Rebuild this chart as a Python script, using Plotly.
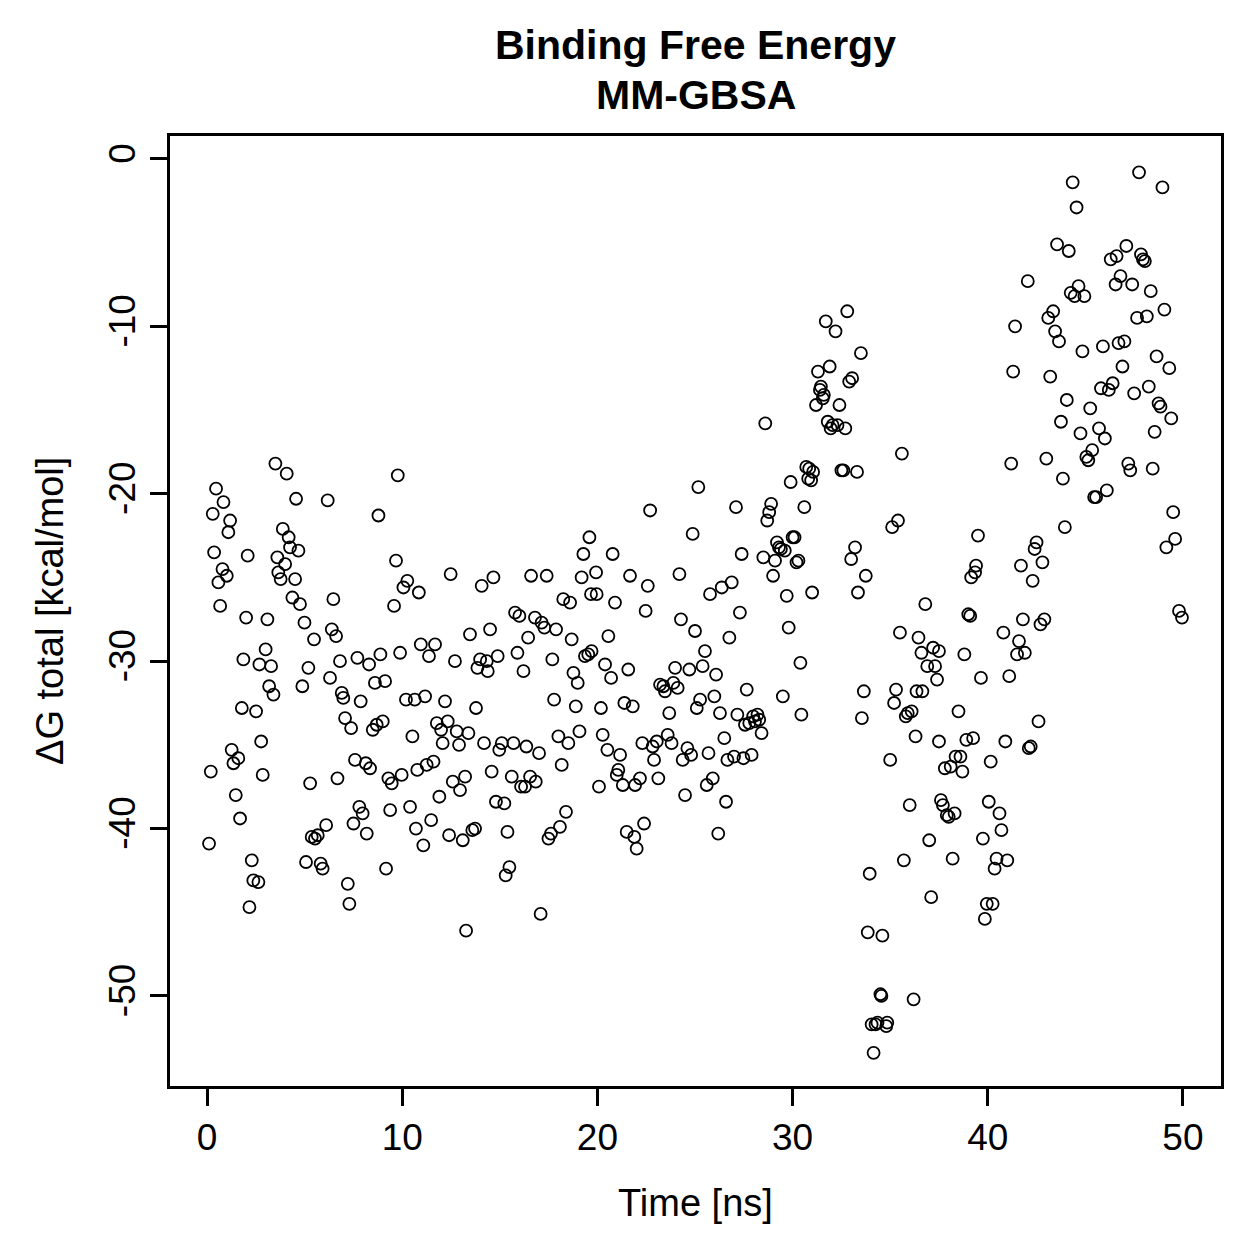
import plotly.graph_objects as go

# ---- data ----
time_a = [0.10,0.19,0.29,0.36,0.46,0.58,0.67,0.79,0.84,1.01,1.09,1.18,1.26,1.35,1.47,1.60,1.69,1.78,1.86,2.00,
          2.08,2.17,2.29,2.37,2.51,2.63,2.68,2.77,2.85,3.00,3.09,3.18,3.28,3.40,3.50,3.60,3.65,3.77,3.88,4.00,
          4.08,4.18,4.25,4.37,4.51,4.56,4.68,4.76,4.88,4.99]
dg_a = [-40.9,-36.6,-21.2,-23.5,-19.7,-25.3,-26.7,-24.5,-20.5,-24.9,-22.3,-21.6,-35.3,-36.1,-38.0,-35.8,-39.4,-32.8,-29.9,-27.4,
        -23.7,-44.7,-41.9,-43.1,-33.0,-43.2,-30.2,-34.8,-36.8,-29.3,-27.5,-31.5,-30.3,-32.0,-18.2,-23.8,-24.7,-25.1,-22.1,-24.2,
        -18.8,-22.6,-23.2,-26.2,-25.1,-20.3,-23.4,-26.6,-31.5,-27.7]

time_b = [5.07,5.19,5.28,5.36,5.48,5.53,5.67,5.82,5.92,6.10,6.18,6.30,6.39,6.47,6.61,6.68,6.81,6.90,6.98,7.07,
          7.21,7.29,7.38,7.50,7.58,7.70,7.80,7.87,7.97,8.13,8.18,8.30,8.35,8.49,8.60,8.69,8.78,8.88,9.00,9.12,
          9.17,9.29,9.38,9.46,9.58,9.68,9.77,9.89,9.97]
dg_b = [-42.0,-30.4,-37.3,-40.5,-28.7,-40.6,-40.4,-42.1,-42.4,-39.8,-20.4,-31.0,-28.1,-26.3,-28.5,-37.0,-30.0,-31.9,-32.2,-33.4,
        -43.3,-44.5,-34.0,-39.7,-35.9,-29.8,-38.7,-32.4,-39.1,-36.1,-40.3,-30.2,-36.4,-34.1,-31.3,-33.8,-21.3,-29.6,-33.6,-31.2,
        -42.4,-37.0,-38.9,-37.3,-26.7,-24.0,-18.9,-29.5,-36.8]

time_c = [10.06,10.19,10.26,10.40,10.52,10.64,10.70,10.77,10.85,10.95,11.08,11.17,11.25,11.37,11.48,11.60,11.68,11.77,11.90,11.99,
          12.07,12.19,12.33,12.40,12.48,12.59,12.70,12.79,12.91,12.96,13.10,13.22,13.27,13.39,13.47,13.59,13.73,13.78,13.85,13.99,
          14.07,14.19,14.33,14.38,14.50,14.58,14.67,14.80,14.89,14.97]
dg_c = [-25.6,-32.3,-25.2,-38.7,-34.5,-32.3,-40.0,-36.5,-25.9,-29.0,-41.0,-32.1,-36.2,-29.7,-39.5,-36.0,-29.0,-33.7,-38.1,-34.1,
        -34.9,-32.4,-33.6,-40.4,-24.8,-37.2,-30.0,-34.2,-35.0,-37.7,-40.7,-36.9,-46.1,-34.3,-28.4,-40.1,-40.0,-32.8,-30.4,-29.9,
        -25.5,-34.9,-30.0,-30.6,-28.1,-36.6,-25.0,-38.4,-29.7,-35.3]

time_d = [15.10,15.23,15.30,15.39,15.49,15.61,15.70,15.78,15.90,16.00,16.09,16.21,16.29,16.36,16.45,16.55,16.60,16.80,16.84,17.01,
          17.09,17.14,17.28,17.40,17.49,17.62,17.69,17.78,17.88,18.00,18.08,18.17,18.25,18.39,18.51,18.60,18.68,18.77,18.89,18.99,
          19.08,19.19,19.28,19.36,19.53,19.59,19.67,19.70,19.93,19.96]
dg_d = [-34.9,-38.5,-42.8,-40.2,-42.3,-36.9,-34.9,-27.1,-29.5,-27.3,-37.5,-30.6,-37.5,-35.1,-28.6,-36.9,-24.9,-27.4,-37.2,-35.5,
        -45.1,-27.7,-28.0,-24.9,-40.6,-40.3,-29.9,-32.3,-28.1,-34.5,-39.9,-36.2,-26.3,-39.0,-34.9,-26.5,-28.7,-30.7,-32.7,-31.3,
        -34.2,-25.0,-23.6,-29.7,-29.6,-22.6,-26.0,-29.4,-24.7,-26.0]

time_e = [20.08,20.18,20.27,20.39,20.51,20.56,20.70,20.78,20.90,20.99,21.07,21.16,21.30,21.38,21.50,21.58,21.67,21.81,21.89,21.93,
          22.01,22.18,22.30,22.39,22.47,22.58,22.70,22.83,22.90,23.04,23.12,23.21,23.38,23.46,23.60,23.68,23.80,23.89,23.98,24.11,
          24.20,24.28,24.37,24.49,24.61,24.71,24.80,24.88,25.00,25.09,25.17,25.26]
dg_e = [-37.5,-32.8,-34.4,-30.2,-35.3,-28.5,-31.0,-23.6,-26.5,-36.8,-36.5,-35.6,-37.4,-32.5,-40.2,-30.5,-24.9,-32.7,-40.5,-37.4,
        -41.2,-37.0,-34.9,-39.7,-27.0,-25.5,-21.0,-35.1,-35.9,-34.8,-37.0,-31.4,-31.5,-31.8,-34.4,-33.1,-34.9,-31.3,-30.4,-31.6,
        -24.8,-27.5,-35.9,-38.0,-35.2,-30.5,-35.6,-22.4,-28.2,-32.8,-19.6,-32.3]

time_f = [25.39,25.51,25.60,25.69,25.77,25.91,25.99,26.08,26.19,26.28,26.37,26.50,26.59,26.66,26.76,26.88,27.00,27.10,27.17,27.30,
          27.39,27.48,27.56,27.65,27.78,27.90,27.98,28.07,28.20,28.29,28.41,28.50,28.60,28.70,28.80,28.90,29.00,29.10,29.20,29.30,
          29.40,29.50,29.60,29.70,29.80,29.90]
dg_f = [-30.3,-29.4,-37.4,-35.5,-26.0,-37.0,-32.1,-30.8,-40.3,-33.1,-25.6,-34.6,-38.4,-35.9,-28.6,-25.3,-35.7,-20.8,-33.2,-27.1,
        -23.6,-35.8,-33.8,-31.7,-33.7,-35.6,-33.3,-33.6,-33.2,-33.5,-34.3,-23.8,-15.8,-21.6,-21.1,-20.6,-24.9,-24.0,-22.9,-23.2,
        -23.3,-32.1,-23.4,-26.1,-28.0,-19.3]

time_g = [30.00,30.10,30.20,30.30,30.40,30.45,30.60,30.70,30.80,30.85,30.95,31.00,31.05,31.20,31.30,31.40,31.45,31.55,31.60,31.70,
          31.80,31.90,31.95,32.05,32.20,32.30,32.40,32.50,32.60,32.70,32.80,32.90,33.05,33.00,33.20,33.30,33.35,33.50,33.55,33.65,
          33.75,33.85,33.95,34.05,34.15,34.25,34.35,34.50,34.55,34.60,34.80,34.85]
dg_g = [-22.6,-22.6,-24.1,-24.0,-30.1,-33.2,-20.8,-18.4,-19.1,-18.5,-19.2,-25.9,-18.7,-14.7,-12.7,-13.8,-13.6,-14.3,-14.1,-9.7,
        -15.7,-12.4,-16.1,-15.9,-10.3,-15.9,-14.7,-18.6,-18.6,-16.1,-9.1,-13.3,-13.1,-23.9,-23.2,-18.7,-25.9,-11.6,-33.4,-31.8,
        -24.9,-46.2,-42.7,-51.7,-53.4,-51.7,-51.6,-49.9,-50.0,-46.4,-51.8,-51.6]

time_h = [35.00,35.10,35.20,35.30,35.40,35.50,35.60,35.70,35.80,35.90,36.00,36.10,36.20,36.30,36.35,36.45,36.60,36.65,36.80,36.90,
          37.00,37.10,37.20,37.30,37.40,37.50,37.50,37.60,37.70,37.80,37.90,38.00,38.10,38.20,38.30,38.35,38.50,38.60,38.70,38.80,
          38.90,39.00,39.10,39.15,39.25,39.35,39.40,39.50,39.65,39.75,39.85,39.95]
dg_h = [-35.9,-22.0,-32.5,-31.7,-21.6,-28.3,-17.6,-41.9,-33.3,-33.1,-38.6,-33.0,-50.2,-34.5,-31.8,-28.6,-29.5,-31.8,-26.6,-30.3,
        -40.7,-44.1,-29.2,-30.3,-31.1,-29.4,-34.8,-38.3,-38.6,-36.4,-39.2,-39.3,-36.3,-41.8,-39.1,-35.7,-33.0,-35.7,-36.6,-29.6,
        -34.7,-27.2,-27.3,-25.0,-34.6,-24.7,-24.3,-22.5,-31.0,-40.6,-45.4,-44.5]

time_i = [40.05,40.15,40.25,40.35,40.45,40.60,40.70,40.80,40.90,41.00,41.10,41.20,41.30,41.40,41.50,41.60,41.70,41.80,41.90,42.05,
          42.10,42.20,42.30,42.40,42.50,42.60,42.70,42.80,42.90,43.00,43.10,43.20,43.35,43.45,43.55,43.65,43.75,43.85,43.95,44.05,
          44.15,44.25,44.35,44.45,44.55,44.65,44.75,44.85,44.95]
dg_i = [-38.4,-36.0,-44.5,-42.4,-41.8,-39.1,-40.1,-28.3,-34.8,-41.9,-30.9,-18.2,-12.7,-10.0,-29.6,-28.8,-24.3,-27.5,-29.5,-7.3,
        -35.2,-35.1,-25.2,-23.3,-22.9,-33.6,-27.8,-24.1,-27.5,-17.9,-9.5,-13.0,-9.1,-10.3,-5.1,-10.9,-15.7,-19.1,-22.0,-14.4,
        -5.5,-8.0,-1.4,-8.2,-2.9,-7.6,-16.4,-11.5,-8.2]

time_j = [45.05,45.15,45.25,45.35,45.45,45.55,45.70,45.80,45.90,46.00,46.10,46.20,46.30,46.40,46.55,46.60,46.70,46.80,46.90,47.00,
          47.10,47.20,47.30,47.40,47.50,47.65,47.75,47.85,47.95,48.05,48.15,48.25,48.35,48.45,48.55,48.65,48.75,48.85,48.95,49.05,
          49.15,49.30,49.40,49.50,49.60,49.80,49.95]
dg_j = [-17.8,-18.0,-14.9,-17.4,-20.2,-20.2,-16.1,-13.7,-11.2,-16.7,-19.8,-13.8,-6.0,-13.4,-7.5,-5.8,-11.0,-7.0,-12.4,-10.9,
        -5.2,-18.2,-18.6,-7.5,-14.0,-9.5,-0.8,-5.7,-6.0,-6.1,-9.4,-13.6,-7.9,-18.5,-16.3,-11.8,-14.6,-14.8,-1.7,-9.0,
        -23.2,-12.5,-15.5,-21.1,-22.7,-27.0,-27.4]

time_ns = time_a + time_b + time_c + time_d + time_e + time_f + time_g + time_h + time_i + time_j
dg_total = dg_a + dg_b + dg_c + dg_d + dg_e + dg_f + dg_g + dg_h + dg_i + dg_j

x_ticks = [0, 10, 20, 30, 40, 50]
y_ticks = [0, -10, -20, -30, -40, -50]

FONT = "Liberation Sans, Arial, Helvetica, sans-serif"

fig = go.Figure()
fig.add_trace(go.Scatter(
    x=time_ns, y=dg_total, mode="markers",
    marker=dict(symbol="circle-open", size=12, color="black", line=dict(width=1.8, color="black")),
    showlegend=False, hoverinfo="x+y",
))

axis_common = dict(
    showline=True, mirror=True, linecolor="black", linewidth=3,
    ticks="outside", ticklen=17, tickwidth=3, tickcolor="black",
    showgrid=False, zeroline=False,
    tickfont=dict(family=FONT, size=37, color="black"),
)

fig.update_layout(
    width=1259, height=1259,
    margin=dict(l=170, r=38, t=136, b=173),
    paper_bgcolor="white", plot_bgcolor="white",
    font=dict(family=FONT, color="black"),
    xaxis=dict(range=[-1.9, 51.95], tickmode="array", tickvals=x_ticks,
               ticktext=[str(v) for v in x_ticks], **axis_common),
    yaxis=dict(range=[-55.38, 1.37], tickmode="array", tickvals=y_ticks,
               ticktext=[str(v) for v in y_ticks], tickangle=-90, **axis_common),
    annotations=[
        dict(text="<b>Binding Free Energy</b>", xref="paper", yref="paper", x=0.5, y=1,
             xanchor="center", yanchor="middle", yshift=91, showarrow=False,
             font=dict(family=FONT, size=41, color="black")),
        dict(text="<b>MM-GBSA</b>", xref="paper", yref="paper", x=0.5, y=1,
             xanchor="center", yanchor="middle", yshift=41, showarrow=False,
             font=dict(family=FONT, size=41, color="black")),
        dict(text="Time [ns]", xref="paper", yref="paper", x=0.5, y=0,
             xanchor="center", yanchor="middle", yshift=-117, showarrow=False,
             font=dict(family=FONT, size=38, color="black")),
        dict(text="ΔG total [kcal/mol]", xref="paper", yref="paper", x=0, y=0.5,
             xanchor="center", yanchor="middle", xshift=-120, textangle=-90, showarrow=False,
             font=dict(family=FONT, size=38, color="black")),
    ],
)

fig.write_html("out.html")
